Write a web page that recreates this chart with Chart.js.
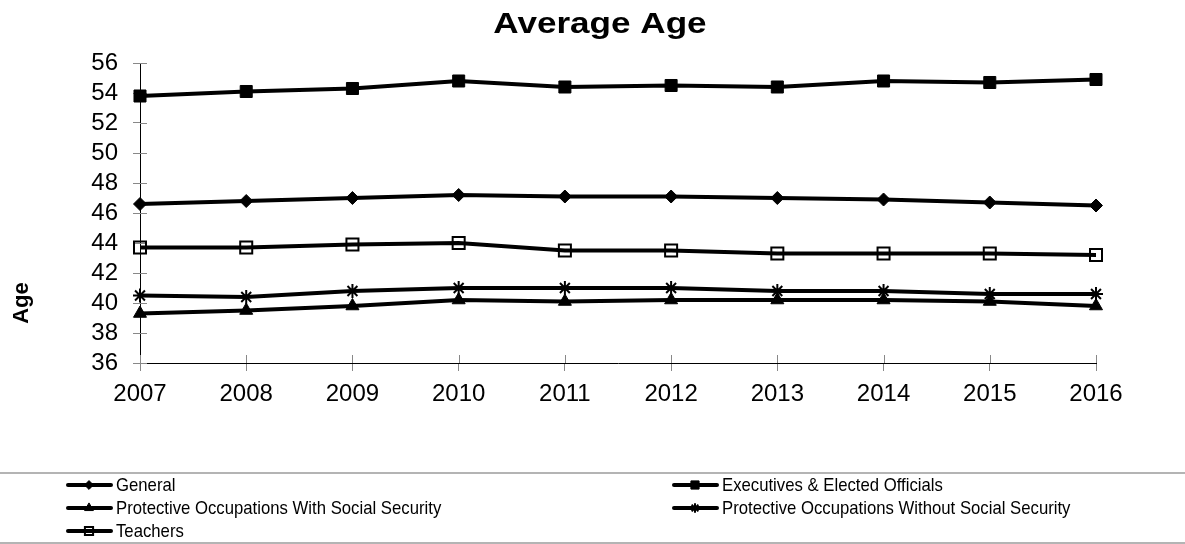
<!DOCTYPE html>
<html>
<head>
<meta charset="utf-8">
<script src="https://cdn.jsdelivr.net/npm/chart.js@4.4.0/dist/chart.umd.min.js"></script>
<style>
  html, body { margin: 0; padding: 0; background: #fff; }
</style>
</head>
<body>
<canvas id="age-chart" width="1185" height="544"></canvas>
<script>
const years = ['2007', '2008', '2009', '2010', '2011', '2012', '2013', '2014', '2015', '2016'];

const general = [46.6, 46.8, 47.0, 47.2, 47.1, 47.1, 47.0, 46.9, 46.7, 46.5];
const executives = [53.8, 54.1, 54.3, 54.8, 54.4, 54.5, 54.4, 54.8, 54.7, 54.9];
const protectiveWith = [39.3, 39.5, 39.8, 40.2, 40.1, 40.2, 40.2, 40.2, 40.1, 39.8];
const protectiveWithout = [40.5, 40.4, 40.8, 41.0, 41.0, 41.0, 40.8, 40.8, 40.6, 40.6];
const teachers = [43.7, 43.7, 43.9, 44.0, 43.5, 43.5, 43.3, 43.3, 43.3, 43.2];

const chartTitle = 'Average Age';
const yTitle = 'Age';

const FONT = 'Liberation Sans, Arial, sans-serif';

function makeSet(label, data, style, radius, fill, bw) {
  return {
    label: label,
    data: data,
    borderColor: '#000',
    borderWidth: 4,
    tension: 0,
    pointStyle: style,
    pointRadius: radius,
    pointBackgroundColor: fill,
    pointBorderColor: '#000',
    pointBorderWidth: bw
  };
}

const datasets = [
  makeSet('General', general, 'rectRot', 6.5, '#000', 1),
  makeSet('Executives & Elected Officials', executives, 'rect', 8.5, '#000', 1),
  makeSet('Protective Occupations With Social Security', protectiveWith, 'triangle', 7.5, '#000', 1),
  makeSet('Protective Occupations Without Social Security', protectiveWithout, 'star', 7, '#000', 2),
  makeSet('Teachers', teachers, 'rect', 8.5, 'rgba(0,0,0,0)', 2)
];

// short tick marks that cross the axes, plus the titles
const axisExtras = {
  id: 'axisExtras',
  beforeDatasetsDraw(chart) {
    const ctx = chart.ctx;
    const y = chart.scales.y;
    const x = chart.scales.x;
    const area = chart.chartArea;
    ctx.save();
    ctx.strokeStyle = '#888';
    ctx.lineWidth = 1;
    y.ticks.forEach((t, i) => {
      const py = Math.round(y.getPixelForTick(i)) + 0.5;
      ctx.beginPath();
      ctx.moveTo(area.left, py);
      ctx.lineTo(area.left + 7, py);
      ctx.stroke();
    });
    x.ticks.forEach((t, i) => {
      const px = Math.round(x.getPixelForTick(i)) + 0.5;
      ctx.beginPath();
      ctx.moveTo(px, area.bottom);
      ctx.lineTo(px, area.bottom - 8);
      ctx.stroke();
    });
    ctx.restore();
  },
  afterDraw(chart) {
    const ctx = chart.ctx;
    ctx.save();
    ctx.fillStyle = '#000';
    ctx.textAlign = 'center';
    ctx.textBaseline = 'middle';
    // title (the source is drawn a bit wide)
    ctx.save();
    ctx.translate(600, 25);
    ctx.scale(1.17, 1);
    ctx.font = 'bold 30px ' + FONT;
    ctx.fillText(chartTitle, 0, 0);
    ctx.restore();
    // y title
    ctx.translate(22, 303);
    ctx.rotate(-Math.PI / 2);
    ctx.font = 'bold 22px ' + FONT;
    ctx.fillText(yTitle, 0, 0);
    ctx.restore();
  }
};

// legend in two columns between grey rules
const boxLegend = {
  id: 'boxLegend',
  afterDraw(chart) {
    const ctx = chart.ctx;
    const W = chart.width;
    ctx.save();
    ctx.strokeStyle = '#b4b4b4';
    ctx.lineWidth = 2;
    ctx.beginPath();
    ctx.moveTo(0, 473); ctx.lineTo(W, 473);
    ctx.moveTo(0, 543); ctx.lineTo(W, 543);
    ctx.stroke();

    const colX = [66, 672];
    const rowY = [485, 508, 531];
    ctx.textBaseline = 'middle';
    chart.data.datasets.forEach((ds, i) => {
      const x0 = colX[i % 2];
      const yy = rowY[Math.floor(i / 2)];
      ctx.strokeStyle = '#000';
      ctx.lineWidth = 4;
      ctx.lineCap = 'round';
      ctx.beginPath();
      ctx.moveTo(x0 + 2, yy);
      ctx.lineTo(x0 + 45, yy);
      ctx.stroke();
      ctx.lineCap = 'butt';
      ctx.fillStyle = ds.pointBackgroundColor;
      ctx.strokeStyle = '#000';
      ctx.lineWidth = ds.pointBorderWidth;
      Chart.helpers.drawPoint(ctx, {
        pointStyle: ds.pointStyle,
        radius: ds.pointRadius * 0.68,
        rotation: 0,
        borderWidth: ds.pointBorderWidth
      }, x0 + 23, yy);
      ctx.save();
      ctx.translate(x0 + 50, yy + 1);
      ctx.scale(0.88, 1);
      ctx.font = '19px ' + FONT;
      ctx.fillStyle = '#000';
      ctx.fillText(ds.label, 0, 0);
      ctx.restore();
    });
    ctx.restore();
  }
};

const ageChart = new Chart(document.getElementById('age-chart'), {
  type: 'line',
  data: { labels: years, datasets: datasets },
  options: {
    responsive: false,
    animation: false,
    events: [],
    layout: { padding: { left: 0, right: 89, top: 63, bottom: 141 } },
    plugins: {
      legend: { display: false },
      tooltip: { enabled: false },
      title: { display: false }
    },
    scales: {
      x: {
        offset: false,
        afterFit(s) { s.height = 40; },
        border: { color: '#000', width: 1 },
        grid: { drawOnChartArea: false, drawTicks: true, tickLength: 8, color: '#888' },
        ticks: { color: '#000', font: { family: FONT, size: 24 }, padding: 9, maxRotation: 0, autoSkip: false }
      },
      y: {
        min: 36,
        max: 56,
        afterFit(s) { s.width = 140; },
        border: { color: '#000', width: 1 },
        grid: { drawOnChartArea: false, drawTicks: true, tickLength: 7, color: '#888' },
        ticks: { stepSize: 2, autoSkip: false, color: '#000', font: { family: FONT, size: 24 }, padding: 15 }
      }
    }
  },
  plugins: [axisExtras, boxLegend]
});
</script>
</body>
</html>
